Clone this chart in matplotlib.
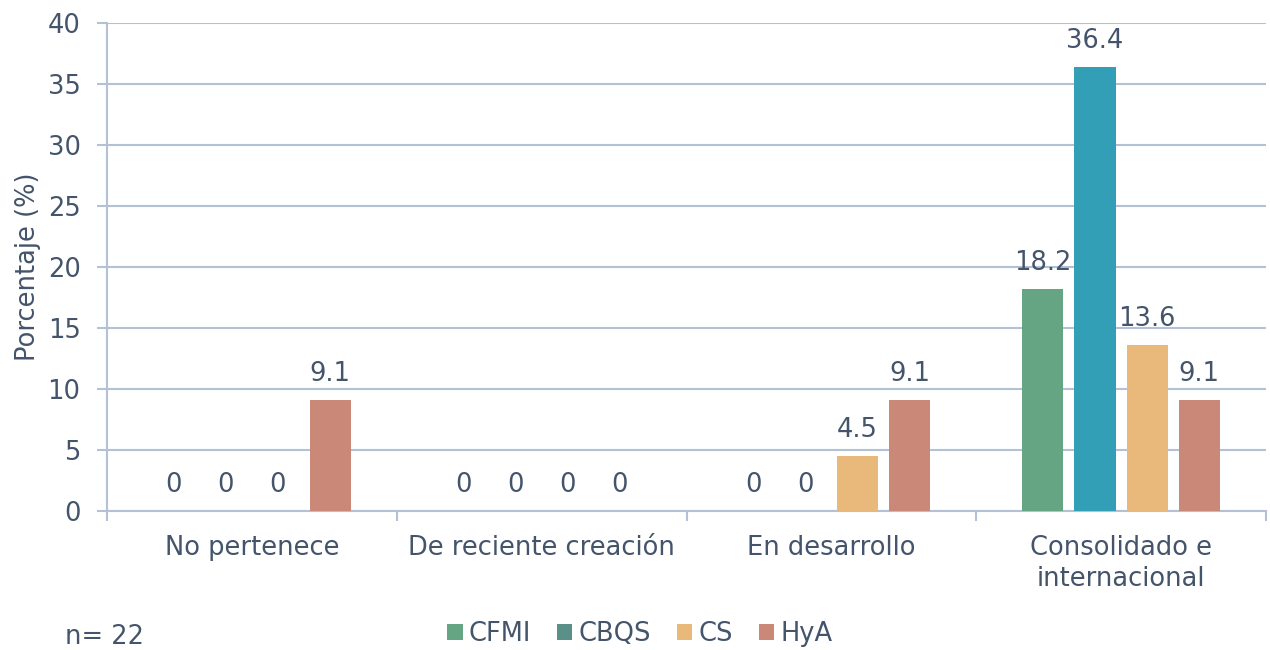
import numpy as np
import matplotlib
matplotlib.use('Agg')
import matplotlib.pyplot as plt
from matplotlib.patches import Patch

# data
categories = ['No pertenece', 'De reciente creación', 'En desarrollo', 'Consolidado e\ninternacional']
series = ['CFMI', 'CBQS', 'CS', 'HyA']
cfmi = [0, 0, 0, 18.2]
cbqs = [0, 0, 0, 36.4]
cs = [0, 0, 4.5, 13.6]
hya = [9.1, 0, 9.1, 9.1]
yticks = [0, 5, 10, 15, 20, 25, 30, 35, 40]

bar_colors = ['#66A583', '#339FB7', '#E8B97B', '#C98878']
legend_colors = ['#66A583', '#5A9088', '#E8B97B', '#C98878']
text_color = '#44546A'
grid_color = '#B4C0D3'
fs = 18.5

plt.rcParams['font.family'] = ['DejaVu Sans']

fig = plt.figure(figsize=(12.7, 6.5), dpi=100)
ax = fig.add_axes([107/1270, 1 - 511/650, (1266-107)/1270, (511-23)/650])

values = [cfmi, cbqs, cs, hya]
x = np.arange(len(categories))
step = 0.18
width = 0.142
for k, (vals, col) in enumerate(zip(values, bar_colors)):
    pos = x + (k - 1.5) * step
    ax.bar(pos, vals, width=width, color=col, zorder=3)
    for p, v in zip(pos, vals):
        ax.annotate(f'{v:g}', (p, v), xytext=(0, 18.5), textcoords='offset points',
                    ha='center', va='center', fontsize=fs, color=text_color)

ax.set_xlim(-0.5, len(categories) - 0.5)
ax.set_ylim(0, 40)
ax.set_yticks(yticks)
ax.tick_params(axis='y', labelsize=fs, colors=grid_color, labelcolor=text_color,
               length=7.5, width=1.5, direction='out', pad=11.5)
ax.yaxis.grid(True, color=grid_color, linewidth=1.5, zorder=0)

ax.set_xticks(x)
ax.set_xticklabels(categories, fontsize=fs, color=text_color, linespacing=1.25)
ax.tick_params(axis='x', length=0, pad=17)
ax.set_xticks(np.arange(-0.5, len(categories)), minor=True)
ax.tick_params(axis='x', which='minor', length=7.5, width=1.5, colors=grid_color)

for s in ['top', 'right']:
    ax.spines[s].set_visible(False)
for s in ['left', 'bottom']:
    ax.spines[s].set_color(grid_color)
    ax.spines[s].set_linewidth(1.5)

ax.set_ylabel('Porcentaje (%)', fontsize=fs, color=text_color, labelpad=5)

handles = [Patch(facecolor=c, edgecolor='none') for c in legend_colors]
fig.legend(handles, series, loc='center', bbox_to_anchor=(640/1270, 1 - 634/650),
           ncol=4, frameon=False, fontsize=fs, handlelength=0.6, handleheight=0.6,
           handletextpad=0.25, columnspacing=1.0, labelcolor=text_color)

fig.text(65/1270, 1 - 637/650, 'n= 22', fontsize=fs, color=text_color, va='center', ha='left')

fig.savefig('out.png', dpi=100)
